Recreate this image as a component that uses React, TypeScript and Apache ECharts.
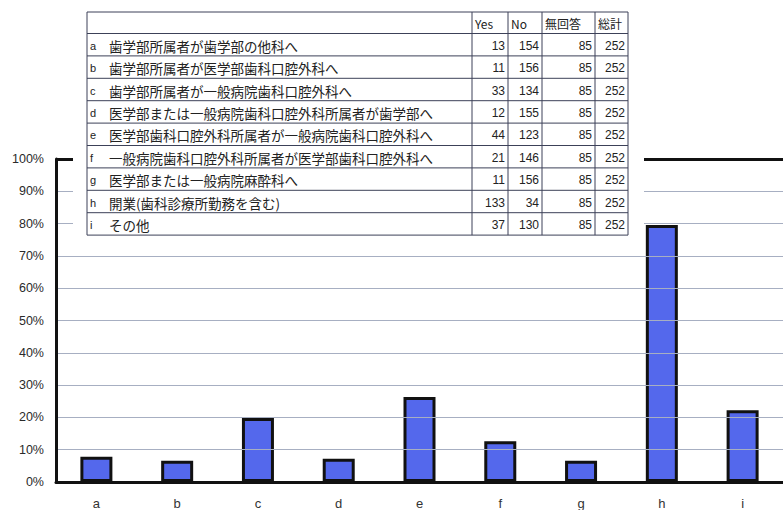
import React, { useEffect, useRef } from "react";
import * as echarts from "echarts";

const categories = ["a", "b", "c", "d", "e", "f", "g", "h", "i"];
// share of "Yes" (percent)
const yesShare = [7.8, 6.6, 19.8, 7.2, 26.3, 12.6, 6.6, 79.6, 22.2];
const frameTop = 100;

const rowLabels = [
  "歯学部所属者が歯学部の他科へ",
  "歯学部所属者が医学部歯科口腔外科へ",
  "歯学部所属者が一般病院歯科口腔外科へ",
  "医学部または一般病院歯科口腔外科所属者が歯学部へ",
  "医学部歯科口腔外科所属者が一般病院歯科口腔外科へ",
  "一般病院歯科口腔外科所属者が医学部歯科口腔外科へ",
  "医学部または一般病院麻酔科へ",
  "開業(歯科診療所勤務を含む)",
  "その他",
];
const tableHeaders = ["Yes", "No", "無回答", "総計"];
const yesCounts = [13, 11, 33, 12, 44, 21, 11, 133, 37];
const noCounts = [154, 156, 134, 155, 123, 146, 156, 34, 130];
const noAnswerCounts = [85, 85, 85, 85, 85, 85, 85, 85, 85];
const totalCounts = [252, 252, 252, 252, 252, 252, 252, 252, 252];

const JP = '"Noto Sans CJK JP", "Noto Sans", sans-serif';
const LAT = '"Liberation Sans", Arial, sans-serif';

const gridGray = "#a7afc2";
const splitColors = [
  gridGray, gridGray, gridGray, gridGray, gridGray, gridGray,
  gridGray, gridGray, gridGray, gridGray, "#111111",
];

function buildTable() {
  const colEdges = [87, 472, 508, 542, 595, 628];
  const top = 12;
  const headerH = 21.5;
  const rowH = 22.4;
  const rowEdges = [top, top + headerH];
  for (let i = 1; i <= categories.length; i++) rowEdges.push(top + headerH + rowH * i);
  const bottom = rowEdges[rowEdges.length - 1];
  const stroke = "#3c4158";
  const els: any[] = [];
  els.push({
    type: "rect",
    shape: { x: 73, y: 0, width: 571, height: 246 },
    style: { fill: "#ffffff" },
    z: 10,
  });
  rowEdges.forEach((y) => {
    els.push({
      type: "line",
      shape: { x1: colEdges[0], y1: y, x2: colEdges[5], y2: y },
      style: { stroke, lineWidth: 1 },
      z: 11,
    });
  });
  colEdges.forEach((x) => {
    els.push({
      type: "line",
      shape: { x1: x, y1: top, x2: x, y2: bottom },
      style: { stroke, lineWidth: 1 },
      z: 11,
    });
  });
  tableHeaders.forEach((h, i) => {
    els.push({
      type: "text",
      x: colEdges[i + 1] + 3,
      y: top + headerH / 2 + 1,
      style: {
        text: h,
        font: `12px ${JP}`,
        fill: "#222",
        align: "left",
        verticalAlign: "middle",
      },
      z: 12,
    });
  });
  const cols = [yesCounts, noCounts, noAnswerCounts, totalCounts];
  categories.forEach((c, r) => {
    const cy = rowEdges[r + 1] + rowH / 2 + 1;
    els.push({
      type: "text",
      x: 90,
      y: cy,
      style: { text: c, font: `11px ${LAT}`, fill: "#222", align: "left", verticalAlign: "middle" },
      z: 12,
    });
    els.push({
      type: "text",
      x: 109,
      y: cy,
      style: {
        text: rowLabels[r],
        font: `13.5px ${JP}`,
        fill: "#222",
        align: "left",
        verticalAlign: "middle",
      },
      z: 12,
    });
    cols.forEach((arr, k) => {
      els.push({
        type: "text",
        x: colEdges[k + 2] - 3,
        y: cy,
        style: {
          text: String(arr[r]),
          font: `12px ${LAT}`,
          fill: "#222",
          align: "right",
          verticalAlign: "middle",
        },
        z: 12,
      });
    });
  });
  return els;
}

export default function App() {
  const ref = useRef<HTMLDivElement>(null);
  useEffect(() => {
    const chart = echarts.init(ref.current!, null, { renderer: "svg" });
    chart.setOption({
      animation: false,
      backgroundColor: "#ffffff",
      grid: { left: 56, top: 159, width: 738, height: 324, containLabel: false },
      xAxis: {
        type: "category",
        data: categories,
        axisLine: { show: true, lineStyle: { color: "#111", width: 3 } },
        axisTick: { show: false },
        axisLabel: { color: "#333", fontSize: 13, fontFamily: LAT, margin: 15 },
        splitLine: { show: false },
        z: 5,
      },
      yAxis: {
        type: "value",
        min: 0,
        max: 100,
        interval: 10,
        axisLine: { show: true, lineStyle: { color: "#111", width: 3 } },
        axisTick: { show: false },
        axisLabel: {
          formatter: "{value}%",
          color: "#2a2a2a",
          fontSize: 12.5,
          fontFamily: LAT,
          margin: 12,
        },
        splitLine: { show: true, lineStyle: { color: splitColors, width: 1 } },
        z: 5,
      },
      series: [
        {
          type: "bar",
          data: yesShare,
          barWidth: 32,
          itemStyle: { color: "#5468ec", borderColor: "#111", borderWidth: 3 },
          z: 3,
          markLine: {
            silent: true,
            symbol: "none",
            label: { show: false },
            lineStyle: { color: "#111", width: 3, type: "solid" },
            data: [{ yAxis: frameTop }],
            z: 4,
          },
        },
      ],
      graphic: { elements: buildTable() },
    });
    return () => chart.dispose();
  }, []);
  return (
    <div
      ref={ref}
      style={{ position: "fixed", left: 0, top: 0, width: 783, height: 510, background: "#fff" }}
    />
  );
}
